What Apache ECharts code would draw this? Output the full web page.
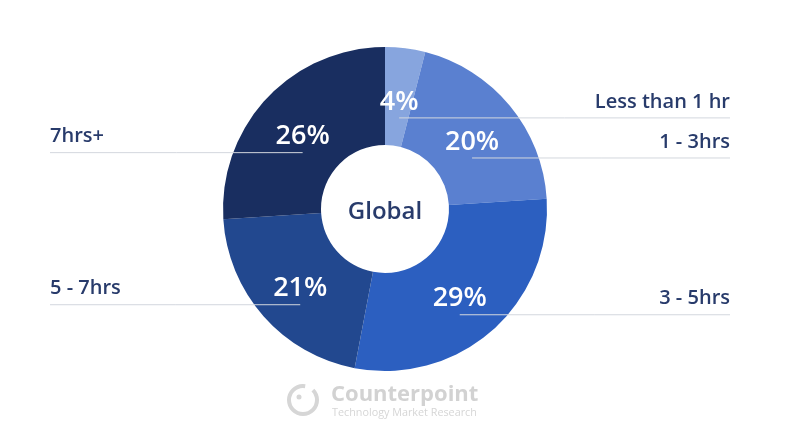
<!DOCTYPE html>
<html><head><meta charset="utf-8">
<script src="https://cdn.jsdelivr.net/npm/echarts@6/dist/echarts.min.js"></script>
<style>html,body{margin:0;padding:0;background:#fff}#c{width:790px;height:433px}</style>
</head><body><div id="c"></div>
<script>
// ---- data ----
const categories = ['Less than 1 hr', '1 - 3hrs', '3 - 5hrs', '5 - 7hrs', '7hrs+'];
const shares = [4, 20, 29, 21, 26];
const sliceColors = ['#87a5de', '#5a80d0', '#2c5fc0', '#22488f', '#192e60'];
const centerText = 'Global';

// ---- layout ----
const cx = 385, cy = 209, r0 = 64, r1 = 162;
const rMid = (r0 + r1) / 2;
const labelDy = 5;
const leftEdge = 50, rightEdge = 730;
const navy = '#283b6b';
const FONT = '"Open Sans", "Noto Sans", sans-serif';

const total = shares.reduce((a, b) => a + b, 0);
function midAngle(i) {
  let s = 0;
  for (let k = 0; k < i; k++) s += shares[k];
  return (s + shares[i] / 2) / total * 2 * Math.PI;
}
function labelPoint(i) {
  const a = midAngle(i);
  return { a: a, x: cx + rMid * Math.sin(a), y: cy - rMid * Math.cos(a) + labelDy };
}

const pieData = categories.map((name, i) => ({
  name: name, value: shares[i], itemStyle: { color: sliceColors[i] }
}));

const chart = echarts.init(document.getElementById('c'), null, { renderer: 'canvas' });
chart.setOption({
  backgroundColor: '#ffffff',
  animation: false,
  series: [
    {
      type: 'pie',
      center: [cx, cy],
      radius: [r0, r1],
      startAngle: 90,
      clockwise: true,
      avoidLabelOverlap: false,
      silent: true,
      data: pieData,
      label: {
        show: true,
        position: 'inside',
        formatter: '{c}%',
        color: '#ffffff',
        fontSize: 27,
        fontWeight: 600,
        fontFamily: FONT
      },
      labelLine: { show: false },
      labelLayout: function (p) {
        const pt = labelPoint(p.dataIndex);
        return { x: pt.x, y: pt.y, align: 'center', verticalAlign: 'middle' };
      },
      z: 2
    },
    {
      type: 'pie',
      center: [cx, cy],
      radius: [r0, r1],
      startAngle: 90,
      clockwise: true,
      avoidLabelOverlap: false,
      silent: true,
      data: categories.map((name, i) => ({ name: name, value: shares[i] })),
      itemStyle: { color: 'rgba(0,0,0,0)' },
      label: {
        show: true,
        position: 'outside',
        formatter: '{b}',
        color: navy,
        fontSize: 20,
        fontWeight: 600,
        fontFamily: FONT
      },
      labelLine: {
        show: true,
        lineStyle: { color: '#d3d7de', width: 1 }
      },
      labelLayout: function (p) {
        const pt = labelPoint(p.dataIndex);
        const right = Math.sin(pt.a) >= 0;
        const edge = right ? rightEdge : leftEdge;
        const lineY = pt.y + 16;
        return {
          x: edge, y: pt.y,
          align: right ? 'right' : 'left',
          verticalAlign: 'middle',
          labelLinePoints: [[pt.x, lineY], [(pt.x + edge) / 2, lineY], [edge, lineY]]
        };
      },
      z: 3
    }
  ],
  graphic: [
    {
      type: 'text', z: 10,
      style: {
        text: centerText, x: cx, y: cy + 3,
        fill: navy, fontSize: 24, fontWeight: 600, fontFamily: FONT,
        align: 'center', verticalAlign: 'middle'
      }
    },
    {
      type: 'arc', z: 10,
      shape: { cx: 303, cy: 400, r: 14, startAngle: -Math.PI * 0.25, endAngle: Math.PI * 1.55 },
      style: { stroke: '#d6d6d6', lineWidth: 4, fill: null }
    },
    {
      type: 'circle', z: 10,
      shape: { cx: 299, cy: 397, r: 2.5 },
      style: { fill: '#d6d6d6' }
    },
    {
      type: 'text', z: 10,
      style: {
        text: 'Counterpoint', x: 331, y: 395,
        fill: '#d2d2d2', fontSize: 22, fontWeight: 'bold', fontFamily: FONT,
        align: 'left', verticalAlign: 'middle'
      }
    },
    {
      type: 'text', z: 10,
      style: {
        text: 'Technology Market Research', x: 332, y: 413,
        fill: '#d6d6d6', fontSize: 10.8, fontFamily: FONT,
        align: 'left', verticalAlign: 'middle'
      }
    }
  ]
});
</script>
</body></html>
